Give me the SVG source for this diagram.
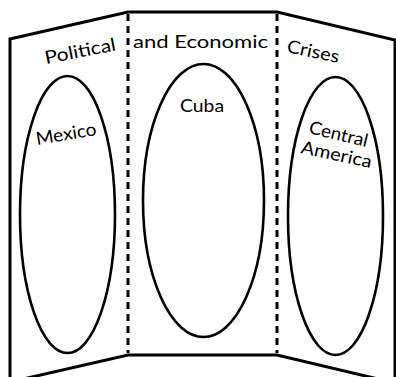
<svg xmlns="http://www.w3.org/2000/svg" width="396" height="377" viewBox="0 0 396 377">
<style>
.edge{fill:none;stroke:#000;stroke-width:3;stroke-linejoin:miter}
.fold{fill:none;stroke:#000;stroke-width:3;stroke-dasharray:7 5}
.oval{fill:none;stroke:#000;stroke-width:2.6}
text{font-family:"Lato","Open Sans",sans-serif;font-size:18px;fill:#000}
</style>
<rect width="396" height="377" fill="#fff"/>
<g id="board">
<path class="edge" d="M10,377 L10,39 L128,12 L277,12 L395,40 L395,377"/>
<path class="edge" d="M10,382 L128,355 L277,355 L395,383"/>
</g>
<g id="connectors">
<line class="fold" x1="128" y1="14" x2="128" y2="353"/>
<line class="fold" x1="277" y1="14" x2="277" y2="353"/>
</g>
<g id="title">
<text transform="translate(46,64) rotate(-11)" textLength="72" lengthAdjust="spacingAndGlyphs">Political</text>
<text x="133" y="48" textLength="135" lengthAdjust="spacingAndGlyphs">and Economic</text>
<text transform="translate(286,52) rotate(12)" textLength="53" lengthAdjust="spacingAndGlyphs">Crises</text>
</g>
<g id="mexico">
<ellipse class="oval" cx="67.5" cy="214.5" rx="47.5" ry="138.5"/>
<text transform="translate(37,145) rotate(-9.5)" textLength="61" lengthAdjust="spacingAndGlyphs">Mexico</text>
</g>
<g id="cuba">
<ellipse class="oval" cx="203.5" cy="200.5" rx="60.5" ry="136.5"/>
<text x="180" y="112" textLength="44" lengthAdjust="spacingAndGlyphs">Cuba</text>
</g>
<g id="central-america">
<ellipse class="oval" cx="335.5" cy="216" rx="47.5" ry="139"/>
<text transform="translate(308,133) rotate(13.5)" textLength="60" lengthAdjust="spacingAndGlyphs">Central</text>
<text transform="translate(300,153) rotate(12)" textLength="72" lengthAdjust="spacingAndGlyphs">America</text>
</g>
</svg>
